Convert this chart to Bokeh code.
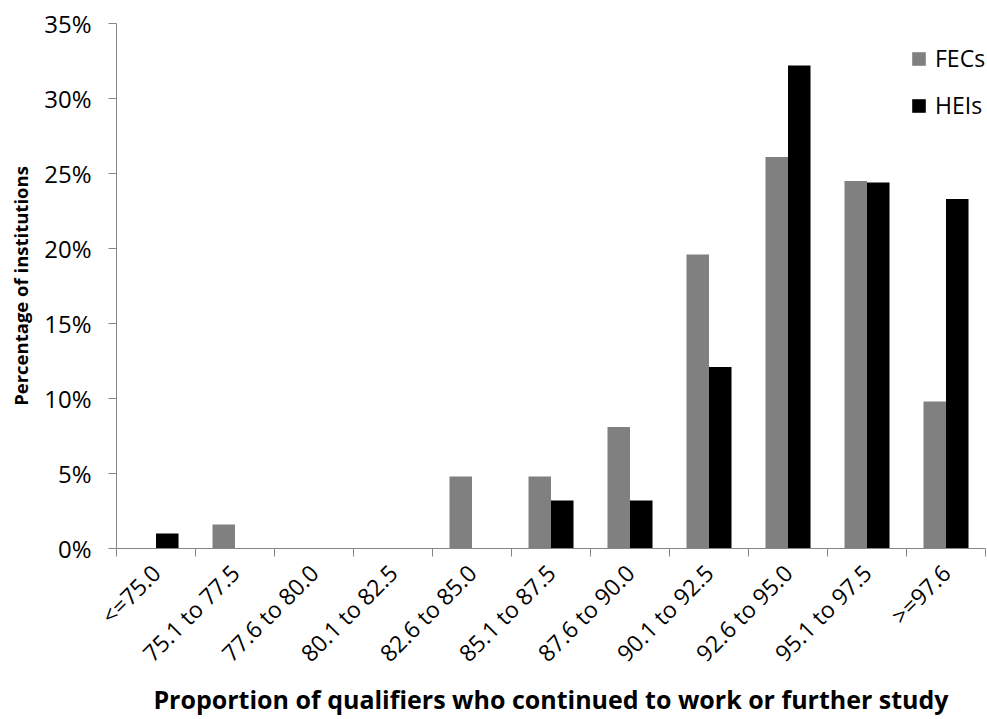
from bokeh.plotting import figure
from bokeh.models import Range1d, FixedTicker, PrintfTickFormatter, Legend, LegendItem
from bokeh.embed import file_html
from bokeh.resources import INLINE
import math

categories = ["<=75.0", "75.1 to 77.5", "77.6 to 80.0", "80.1 to 82.5", "82.6 to 85.0",
              "85.1 to 87.5", "87.6 to 90.0", "90.1 to 92.5", "92.6 to 95.0",
              "95.1 to 97.5", ">=97.6"]
fecs = [0.0, 1.6, 0.0, 0.0, 4.8, 4.8, 8.1, 19.6, 26.1, 24.5, 9.8]
heis = [1.0, 0.0, 0.0, 0.0, 0.0, 3.2, 3.2, 12.1, 32.2, 24.4, 23.3]
y_ticks = [0, 5, 10, 15, 20, 25, 30, 35]

n = len(categories)
centers = [i + 0.5 for i in range(n)]
bw = 0.285

p = figure(width=987, height=719, output_backend="svg", toolbar_location=None,
           x_range=Range1d(0, n), y_range=Range1d(0, 35),
           min_border_left=116, min_border_right=2, min_border_top=23, min_border_bottom=171)
p.outline_line_color = None
p.xgrid.grid_line_color = None
p.ygrid.grid_line_color = None
p.background_fill_color = "white"

r1 = p.vbar(x=[c - bw / 2 for c in centers], top=fecs, width=bw, fill_color="#808080", line_color=None)
r2 = p.vbar(x=[c + bw / 2 for c in centers], top=heis, width=bw, fill_color="#000000", line_color=None)

font = "Open Sans"
axc = "#868686"

xa = p.xaxis[0]
xa.ticker = FixedTicker(ticks=centers, minor_ticks=list(range(n + 1)))
xa.major_label_overrides = {c: lab for c, lab in zip(centers, categories)}
xa.major_label_orientation = math.pi / 4
xa.major_tick_out = 0
xa.major_tick_in = 0
xa.minor_tick_out = 8
xa.minor_tick_in = 0
xa.minor_tick_line_color = axc
xa.axis_line_color = axc
xa.major_label_text_font = font
xa.major_label_text_font_size = "23px"
xa.major_label_text_color = "black"
xa.major_label_standoff = 12
xa.axis_label = "Proportion of qualifiers who continued to work or further study"
xa.axis_label_text_font = font
xa.axis_label_text_font_size = "25px"
xa.axis_label_text_font_style = "bold"
xa.axis_label_text_color = "black"
xa.axis_label_standoff = 0

ya = p.yaxis[0]
ya.ticker = FixedTicker(ticks=y_ticks, minor_ticks=[])
ya.formatter = PrintfTickFormatter(format="%d%%")
ya.major_tick_out = 8
ya.major_tick_in = 0
ya.minor_tick_out = 0
ya.minor_tick_in = 0
ya.major_tick_line_color = axc
ya.axis_line_color = axc
ya.major_label_text_font = font
ya.major_label_text_font_size = "24px"
ya.major_label_text_color = "black"
ya.major_label_standoff = 17
ya.axis_label = "Percentage of institutions"
ya.axis_label_text_font = font
ya.axis_label_text_font_size = "18.5px"
ya.axis_label_text_font_style = "bold"
ya.axis_label_text_color = "black"
ya.axis_label_standoff = 8

legend = Legend(items=[LegendItem(label="FECs", renderers=[r1]),
                       LegendItem(label="HEIs", renderers=[r2])],
                location=(794, 427))
legend.border_line_color = None
legend.background_fill_alpha = 0
legend.padding = 0
legend.margin = 0
legend.glyph_width = 17
legend.glyph_height = 17
legend.label_standoff = 8
legend.label_text_font = font
legend.label_text_font_size = "23px"
legend.label_text_color = "black"
legend.spacing = 15
p.add_layout(legend, "center")

open("out.html", "w").write(file_html(p, INLINE))
